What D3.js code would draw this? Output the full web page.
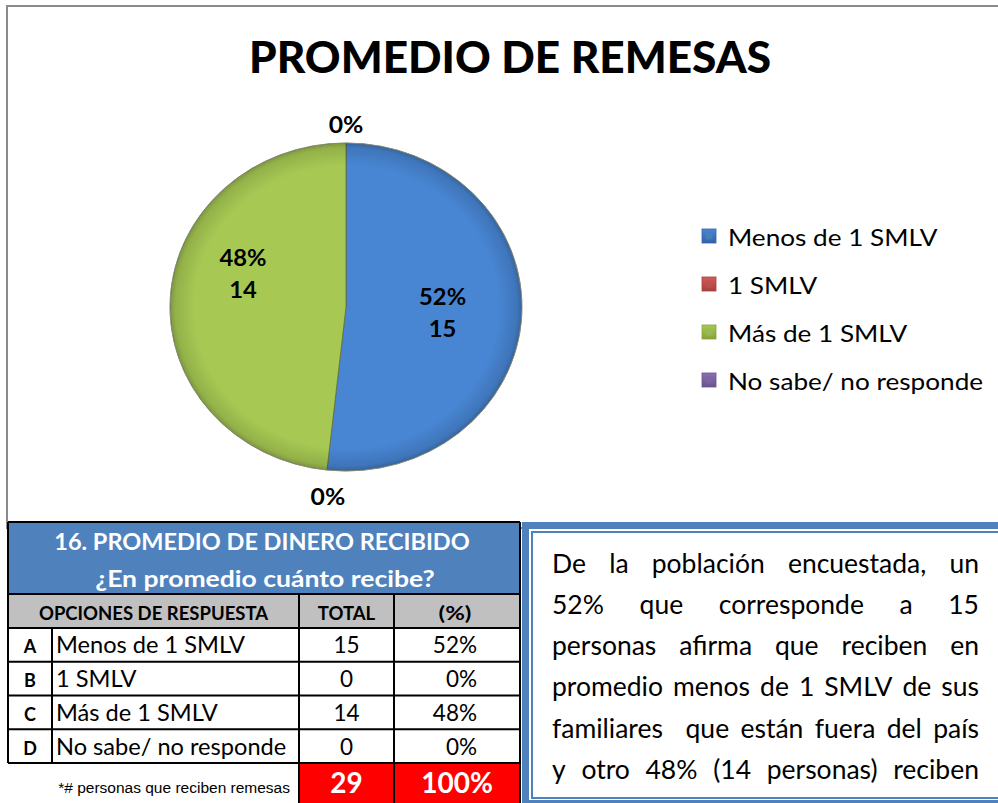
<!DOCTYPE html>
<html>
<head>
<meta charset="utf-8">
<script src="https://cdn.jsdelivr.net/npm/d3@7"></script>
<style>
  html, body { margin: 0; padding: 0; background: #fff; }
  svg { display: block; }
</style>
</head>
<body>
<svg id="chart" width="998" height="803"></svg>
<script>
// ---- data ----
const categories = ["Menos de 1 SMLV", "1 SMLV", "Más de 1 SMLV", "No sabe/ no responde"];
const optionLetters = ["A", "B", "C", "D"];
const counts = [15, 0, 14, 0];
const percents = [52, 0, 48, 0];
const totalCount = 29;
const totalPercent = 100;
const colors = ["#4f81bd", "#c0504d", "#9bbb59", "#8064a2"];
const colorsLight = ["#4886d4", "#d35c59", "#a7c953", "#8c70b2"];
const colorsDark = ["#3461a6", "#a6403d", "#87a33c", "#6a5290"];

const chartTitle = "PROMEDIO DE REMESAS";
const tableTitle1 = "16. PROMEDIO DE DINERO RECIBIDO";
const tableTitle2 = "¿En promedio cuánto recibe?";
const tableHeaders = ["OPCIONES DE RESPUESTA", "TOTAL", "(%)"];
const footnote = "*# personas que reciben remesas";
const paragraphLines = [
  "De la población encuestada, un",
  "52% que corresponde a 15",
  "personas afirma que reciben en",
  "promedio menos de 1 SMLV de sus",
  "familiares  que están fuera del país",
  "y otro 48% (14 personas) reciben"
];

// ---- helpers ----
const FONT = "Lato, 'Open Sans', sans-serif";
const svg = d3.select("#chart");
const defs = svg.append("defs");

// text drawn with a horizontal stretch factor about its anchor point
function stretchedText(parent, x, y, sx) {
  return parent.append("g")
    .attr("transform", `translate(${x},${y}) scale(${sx},1)`)
    .append("text").attr("x", 0).attr("y", 0)
    .attr("font-family", FONT).attr("fill", "#000");
}

// ---- chart frame and title ----
svg.append("rect")
  .attr("x", 7).attr("y", 6).attr("width", 1010).attr("height", 522)
  .attr("fill", "none").attr("stroke", "#8a8a8a").attr("stroke-width", 2);

svg.append("text")
  .attr("x", 510).attr("y", 73)
  .attr("text-anchor", "middle")
  .attr("font-family", FONT).attr("font-weight", 900)
  .attr("font-size", 44)
  .attr("textLength", 522).attr("lengthAdjust", "spacingAndGlyphs")
  .attr("fill", "#000")
  .text(chartTitle);

// ---- pie ----
const cx = 346, cy = 307, rx = 176, ry = 164;

colors.forEach((c, i) => {
  const g = defs.append("linearGradient")
    .attr("id", "slice" + i)
    .attr("gradientUnits", "userSpaceOnUse")
    .attr("x1", 0).attr("y1", cy - ry).attr("x2", 0).attr("y2", cy + ry);
  g.append("stop").attr("offset", 0).attr("stop-color", colorsLight[i]);
  g.append("stop").attr("offset", 1).attr("stop-color", colorsDark[i]);
});
const bevel = defs.append("radialGradient").attr("id", "bevel");
bevel.append("stop").attr("offset", 0.86).attr("stop-color", "#000").attr("stop-opacity", 0);
bevel.append("stop").attr("offset", 0.97).attr("stop-color", "#000").attr("stop-opacity", 0.12);
bevel.append("stop").attr("offset", 1).attr("stop-color", "#000").attr("stop-opacity", 0.25);

const pie = d3.pie().sort(null).value(d => d).startAngle(0).endAngle(2 * Math.PI);
const arcs = pie(counts);
const arc = d3.arc().innerRadius(0).outerRadius(ry);

const pieG = svg.append("g")
  .attr("transform", `translate(${cx},${cy}) scale(${rx / ry},1)`);
pieG.selectAll("path.slice")
  .data(arcs.filter(a => a.value > 0))
  .join("path")
  .attr("class", "slice")
  .attr("d", arc)
  .attr("fill", d => `url(#slice${d.index})`)
  .attr("stroke", "#5f6b3a").attr("stroke-width", 0.8)
  .attr("vector-effect", "non-scaling-stroke");
pieG.append("circle")
  .attr("r", ry).attr("fill", "url(#bevel)")
  .attr("stroke", "#9a9a9a").attr("stroke-width", 0.6)
  .attr("vector-effect", "non-scaling-stroke");

// label placement inside / outside the slices
const labelPlacement = [
  { r: 0.55, shift: 0.01 },
  { r: 1.165, shift: -0.02 },
  { r: 0.62, shift: 0.28 },
  { r: 1.11, shift: 0 }
];
function ellPoint(angle, frac) {
  return [cx + Math.sin(angle) * rx * frac, cy - Math.cos(angle) * ry * frac];
}
arcs.forEach((a, i) => {
  const mid = (a.startAngle + a.endAngle) / 2 + labelPlacement[i].shift;
  const [x, y] = ellPoint(mid, labelPlacement[i].r);
  if (a.value > 0) {
    stretchedText(svg, x, y - 8, 1.08)
      .attr("text-anchor", "middle").attr("font-weight", 700).attr("font-size", 22)
      .text(percents[i] + "%");
    stretchedText(svg, x, y + 24, 1.08)
      .attr("text-anchor", "middle").attr("font-weight", 700).attr("font-size", 22)
      .text(counts[i]);
  } else {
    stretchedText(svg, x, y + 8, 1.1)
      .attr("text-anchor", "middle").attr("font-weight", 700).attr("font-size", 22.5)
      .text(percents[i] + "%");
  }
});

// ---- legend ----
colors.forEach((c, i) => {
  const g = defs.append("linearGradient")
    .attr("id", "leg" + i).attr("x1", 0).attr("y1", 0).attr("x2", 0).attr("y2", 1);
  g.append("stop").attr("offset", 0).attr("stop-color", colorsLight[i]);
  g.append("stop").attr("offset", 1).attr("stop-color", colorsDark[i]);
});
const legendY = d3.scalePoint().domain(categories).range([237, 381]);
const legend = svg.append("g");
categories.forEach((name, i) => {
  const y = legendY(name);
  legend.append("rect")
    .attr("x", 702).attr("y", y - 8).attr("width", 14).attr("height", 14)
    .attr("fill", `url(#leg${i})`).attr("stroke", colorsDark[i]).attr("stroke-width", 0.8);
  legend.append("rect")
    .attr("x", 705.5).attr("y", y - 4.5).attr("width", 7).attr("height", 7)
    .attr("fill", colors[i]).attr("opacity", 0.7);
  stretchedText(legend, 728, y + 8.5, 1.09)
    .attr("font-size", 24)
    .text(name);
});

// ---- table ----
const colX = [8, 52, 299, 394, 520];
const headTop = 522, headBottom = 594, grayBottom = 628, rowH = 33.75;
const rowY = d3.scaleLinear().domain([0, categories.length]).range([grayBottom, grayBottom + rowH * categories.length]);
const rowsBottom = rowY(categories.length);
const footBottom = 805;
const tbl = svg.append("g");

tbl.append("rect").attr("x", colX[0]).attr("y", headTop)
  .attr("width", colX[4] - colX[0]).attr("height", headBottom - headTop)
  .attr("fill", "#4f81bd");
tbl.append("rect").attr("x", colX[0]).attr("y", headBottom)
  .attr("width", colX[4] - colX[0]).attr("height", grayBottom - headBottom)
  .attr("fill", "#c0c0c0");
tbl.append("rect").attr("x", colX[0]).attr("y", grayBottom)
  .attr("width", colX[4] - colX[0]).attr("height", rowsBottom - grayBottom)
  .attr("fill", "#fff");
tbl.append("rect").attr("x", colX[2]).attr("y", rowsBottom)
  .attr("width", colX[4] - colX[2]).attr("height", footBottom - rowsBottom)
  .attr("fill", "#ff0000");

const lineStyle = s => s.attr("stroke", "#000").attr("stroke-width", 2);
[headTop, headBottom, grayBottom].forEach(y =>
  tbl.append("line").attr("x1", colX[0]).attr("x2", colX[4]).attr("y1", y).attr("y2", y).call(lineStyle));
d3.range(1, categories.length + 1).forEach(k =>
  tbl.append("line").attr("x1", colX[0]).attr("x2", colX[4]).attr("y1", rowY(k)).attr("y2", rowY(k)).call(lineStyle));
tbl.append("line").attr("x1", colX[0]).attr("x2", colX[0]).attr("y1", headTop).attr("y2", rowsBottom).call(lineStyle);
tbl.append("line").attr("x1", colX[4]).attr("x2", colX[4]).attr("y1", headTop).attr("y2", footBottom).call(lineStyle);
tbl.append("line").attr("x1", colX[1]).attr("x2", colX[1]).attr("y1", grayBottom).attr("y2", rowsBottom).call(lineStyle);
[colX[2], colX[3]].forEach(x =>
  tbl.append("line").attr("x1", x).attr("x2", x).attr("y1", headBottom).attr("y2", footBottom).call(lineStyle));

// table title
const midTable = (colX[0] + colX[4]) / 2;
stretchedText(tbl, midTable - 2, 550, 1.0)
  .attr("text-anchor", "middle").attr("font-weight", 700)
  .attr("font-size", 23.5).attr("fill", "#fff").text(tableTitle1);
stretchedText(tbl, midTable + 1, 587, 1.13)
  .attr("text-anchor", "middle").attr("font-weight", 700)
  .attr("font-size", 23.5).attr("fill", "#fff").text(tableTitle2);

// column headings
const headCenters = [(colX[0] + colX[2]) / 2, (colX[2] + colX[3]) / 2, (colX[3] + colX[4]) / 2];
tableHeaders.forEach((h, j) => {
  stretchedText(tbl, headCenters[j] + (j === 2 ? -2 : 0), 620, j === 2 ? 1.3 : 1.0)
    .attr("text-anchor", "middle").attr("font-weight", 700)
    .attr("font-size", 18.5).text(h);
});

// rows
categories.forEach((name, i) => {
  const yc = (rowY(i) + rowY(i + 1)) / 2 + 8.5;
  stretchedText(tbl, (colX[0] + colX[1]) / 2, yc, 1.0)
    .attr("text-anchor", "middle").attr("font-weight", 700)
    .attr("font-size", 18).text(optionLetters[i]);
  stretchedText(tbl, colX[1] + 4, yc, 1.05)
    .attr("font-size", 22.5).text(name);
  stretchedText(tbl, headCenters[1], yc, 1.0)
    .attr("text-anchor", "middle").attr("font-size", 22.5).text(counts[i]);
  stretchedText(tbl, colX[4] - 43, yc, 1.0)
    .attr("text-anchor", "end").attr("font-size", 22.5).text(percents[i] + "%");
});

// totals
const footY = (rowsBottom + 803) / 2 + 10;
stretchedText(tbl, headCenters[1], footY, 1.0)
  .attr("text-anchor", "middle").attr("font-weight", 700)
  .attr("font-size", 28).attr("fill", "#fff").text(totalCount);
stretchedText(tbl, headCenters[2], footY, 1.0)
  .attr("text-anchor", "middle").attr("font-weight", 700)
  .attr("font-size", 28).attr("fill", "#fff").text(totalPercent + "%");
tbl.append("text").attr("x", 290).attr("y", 793)
  .attr("text-anchor", "end").attr("font-family", "'Liberation Sans', Arial, sans-serif")
  .attr("font-size", 15.5).attr("fill", "#000").text(footnote);

// ---- commentary box ----
const box = svg.append("g");
box.append("rect").attr("x", 525.5).attr("y", 525.5).attr("width", 480).attr("height", 278)
  .attr("fill", "#fff").attr("stroke", "#4f81bd").attr("stroke-width", 7);
box.append("rect").attr("x", 532).attr("y", 532).attr("width", 470).attr("height", 266)
  .attr("fill", "none").attr("stroke", "#4f81bd").attr("stroke-width", 2);

// justified paragraph: words spread evenly between the margins
const textLeft = 552, textRight = 979;
const lineY = d3.scaleLinear().domain([0, 1]).range([572.5, 613.8]);
paragraphLines.forEach((line, i) => {
  const words = line.split(" ");
  const g = box.append("g");
  const nodes = words.map(w => g.append("text")
    .attr("y", lineY(i))
    .attr("font-family", FONT).attr("font-size", 26.5).attr("fill", "#000")
    .text(w));
  const widths = nodes.map(n => n.node().getComputedTextLength());
  const gap = (textRight - textLeft - d3.sum(widths)) / (words.length - 1);
  let x = textLeft;
  nodes.forEach((n, j) => { n.attr("x", x); x += widths[j] + gap; });
});
</script>
</body>
</html>
